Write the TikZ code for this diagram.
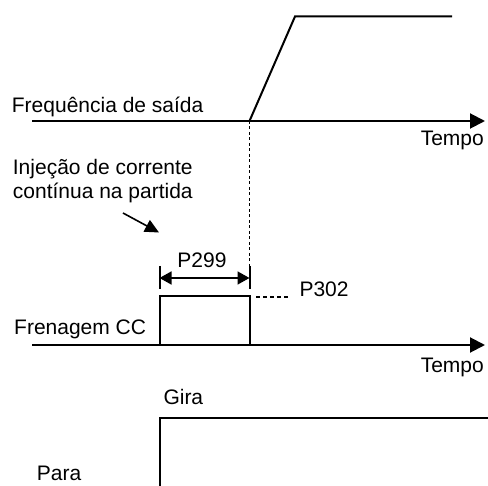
\documentclass[tikz,border=0pt]{standalone}
\usepackage{fontspec}
\setmainfont{Liberation Sans}
\usetikzlibrary{arrows.meta}
\begin{document}
\begin{tikzpicture}[x=1pt,y=-1pt,
  lbl/.style={inner sep=0pt,font=\fontsize{21}{24}\selectfont},
  sig/.style={line width=2pt,line join=miter},
  axisline/.style={line width=2pt,-{Triangle[length=15pt,width=15pt]}},
  guide/.style={line width=0.7pt,dash pattern=on 3pt off 2.5pt},
  dotline/.style={line width=1.6pt,dash pattern=on 4pt off 3pt},
  dimline/.style={line width=1.6pt,{Triangle[length=12pt,width=13pt]}-{Triangle[length=12pt,width=13pt]}},
  pointer/.style={line width=1.6pt,-{Triangle[length=14pt,width=13pt]}}]
\useasboundingbox (0,0) rectangle (488,486);
% coordinates
\coordinate (a1s) at (32,121);
\coordinate (a1e) at (485,121);
\coordinate (r0) at (249.5,121);
\coordinate (r1) at (295,16.5);
\coordinate (r2) at (452,16.5);
\coordinate (g0) at (249.5,266);
\coordinate (tl0) at (159.5,266);
\coordinate (tl1) at (159.5,289);
\coordinate (tr1) at (249.5,289);
\coordinate (dl) at (159.5,278);
\coordinate (dr) at (249.5,278);
\coordinate (p0) at (159.5,345);
\coordinate (p1) at (159.5,296.5);
\coordinate (p2) at (249.5,296.5);
\coordinate (p3) at (249.5,345);
\coordinate (d0) at (256,297);
\coordinate (d1) at (289,297);
\coordinate (a2s) at (32,345);
\coordinate (a2e) at (485,345);
\coordinate (b0) at (159.5,486);
\coordinate (b1) at (159.5,418.5);
\coordinate (b2) at (488,418.5);
\coordinate (k0) at (123,213);
\coordinate (k1) at (159,232.5);
% labels
\node[lbl,anchor=base west] (freq) at (11.7,112.7) {Frequência de saída};
\node[lbl,anchor=base east] (tempo1) at (484,146) {Tempo};
\node[lbl,anchor=base west] (inj1) at (12.7,175) {Injeção de corrente};
\node[lbl,anchor=base west] (inj2) at (12.7,199) {contínua na partida};
\node[lbl,anchor=base] (p299) at (202,268) {P299};
\node[lbl,anchor=base west] (p302) at (299.3,296.7) {P302};
\node[lbl,anchor=base west] (fren) at (14,335) {Frenagem CC};
\node[lbl,anchor=base east] (tempo2) at (484,372.7) {Tempo};
\node[lbl,anchor=base west] (gira) at (163.3,405) {Gira};
\node[lbl,anchor=base west] (para) at (36.7,480.7) {Para};
% drawing
\draw[axisline] (a1s) -- (a1e);
\draw[sig] (r0) -- (r1) -- (r2);
\draw[guide] (r0) -- (g0);
\draw[sig] (tl0) -- (tl1);
\draw[sig] (g0) -- (tr1);
\draw[dimline] (dl) -- (dr);
\draw[sig] (p0) -- (p1) -- (p2) -- (p3);
\draw[dotline] (d0) -- (d1);
\draw[axisline] (a2s) -- (a2e);
\draw[sig] (b0) -- (b1) -- (b2);
\draw[pointer] (k0) -- (k1);
\end{tikzpicture}
\end{document}
